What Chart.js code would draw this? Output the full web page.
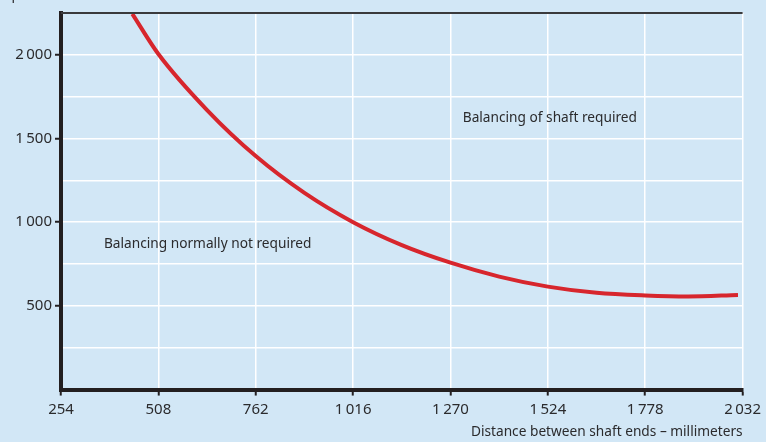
<!DOCTYPE html>
<html>
<head>
<meta charset="utf-8">
<script src="https://cdn.jsdelivr.net/npm/chart.js@4"></script>
<style>
  html, body { margin: 0; padding: 0; background: #d2e7f6; }
  #wrap { width: 766px; height: 442px; }
</style>
</head>
<body>
<div id="wrap"><canvas id="grafico"></canvas></div>
<script>
// distancia entre as pontas do eixo (mm) e rotacao limite (r/min)
var distancias = [440, 508, 635, 762, 889, 1016, 1143, 1270, 1397, 1524, 1651, 1778, 1890, 2020];
var rotacoes   = [2245, 2005, 1670, 1395, 1175, 1000, 863, 758, 675, 615, 578, 562, 556, 565];

var ticksX = [254, 508, 762, 1016, 1270, 1524, 1778, 2032];
var ticksY = [500, 1000, 1500, 2000];

var tituloX = "Distance between shaft ends – millimeters";
var tituloY = "Speed – r/min";
var textoAcima = "Balancing of shaft required";
var textoAbaixo = "Balancing normally not required";
// posicao dos textos em unidades do grafico
var posAcima = [1302, 1623];
var posAbaixo = [366, 867];

var corTexto = "#2b2b2d";
var fonte = "'Noto Sans', sans-serif";

function formata(v) {
    return String(v).replace(/\B(?=(\d{3})+(?!\d))/g, "\u2009");
}

var textos = {
    id: 'textos',
    afterDatasetsDraw: function (chart) {
        var c = chart.ctx, x = chart.scales.x, y = chart.scales.y;
        c.save();
        c.fillStyle = corTexto;
        c.font = "13.7px " + fonte;
        c.textBaseline = 'middle';
        c.textAlign = 'left';
        c.fillText(textoAcima, x.getPixelForValue(posAcima[0]), y.getPixelForValue(posAcima[1]));
        c.fillText(textoAbaixo, x.getPixelForValue(posAbaixo[0]), y.getPixelForValue(posAbaixo[1]));
        // titulo do eixo y, cortado no topo como no original
        c.textBaseline = 'bottom';
        c.fillText(tituloY, 4, 2);
        // linha superior escura
        c.strokeStyle = '#3a3a3c';
        c.lineWidth = 2;
        c.beginPath();
        c.moveTo(chart.chartArea.left, chart.chartArea.top);
        c.lineTo(chart.chartArea.right, chart.chartArea.top);
        c.stroke();
        c.restore();
    }
};

var ctx = document.getElementById("grafico");
var grafico = new Chart(ctx, {
    type: 'line',
    data: {
        datasets: [{
            data: distancias.map(function (d, i) { return { x: d, y: rotacoes[i] }; }),
            borderColor: "#d7262d",
            borderWidth: 4,
            pointRadius: 0,
            cubicInterpolationMode: 'monotone',
            fill: false
        }]
    },
    options: {
        responsive: true,
        maintainAspectRatio: false,
        animation: false,
        layout: { padding: { top: 13, right: 23, left: 0, bottom: 2 } },
        plugins: { legend: { display: false }, tooltip: { enabled: false } },
        scales: {
            x: {
                type: 'linear',
                min: 254,
                max: 2032,
                afterBuildTicks: function (s) { s.ticks = ticksX.map(function (v) { return { value: v }; }); },
                ticks: {
                    color: corTexto,
                    font: { family: fonte, size: 15 },
                    padding: 5,
                    maxRotation: 0,
                    callback: function (v) { return formata(v); }
                },
                grid: {
                    color: '#ffffff',
                    lineWidth: 1.5,
                    tickColor: '#231f20',
                    tickLength: 6,
                    tickWidth: 2
                },
                border: { color: '#231f20', width: 4 },
                title: {
                    display: true,
                    text: tituloX,
                    align: 'end',
                    color: corTexto,
                    font: { family: fonte, size: 13.7 },
                    padding: { top: 0, bottom: 0 }
                }
            },
            y: {
                min: 0,
                max: 2250,
                ticks: {
                    stepSize: 250,
                    color: corTexto,
                    font: { family: fonte, size: 15 },
                    padding: 3,
                    callback: function (v) { return ticksY.indexOf(v) >= 0 ? formata(v) : ''; }
                },
                grid: {
                    color: '#ffffff',
                    lineWidth: 1.5,
                    tickLength: 6,
                    tickWidth: 2,
                    tickColor: function (c) { return ticksY.indexOf(c.tick.value) >= 0 ? '#231f20' : 'rgba(0,0,0,0)'; }
                },
                border: { color: '#231f20', width: 4 },
                afterFit: function (s) { s.width = 61; }
            }
        }
    },
    plugins: [textos]
});
</script>
</body>
</html>
